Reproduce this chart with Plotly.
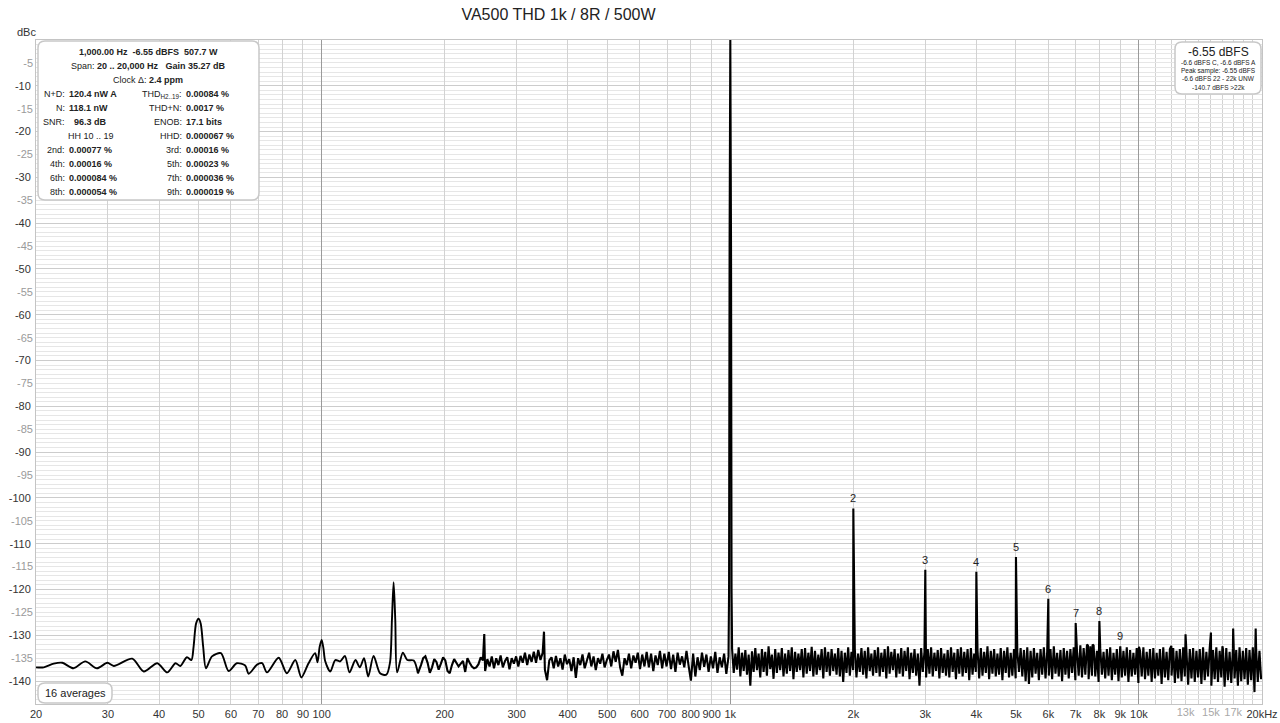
import numpy as np
import plotly.graph_objects as go

# ---------------- data ----------------
# low-frequency part of the spectrum (Hz, dBc)
low_freq = [20.0, 20.9, 22.1, 23.2, 24.7, 26.4, 28.2, 29.9, 31.0, 34.4, 36.7, 39.6,
            41.9, 43.9, 45.1, 46.8, 48.0, 48.6, 49.3, 50.0, 50.6, 51.3, 52.1, 53.9,
            56.7, 59.2, 62.0, 65.0, 66.3, 69.5, 71.5, 73.5, 78.5, 82.2, 86.2, 89.2,
            92.9, 96.4, 97.7, 98.9, 100.0, 101.0, 102.0, 105.0, 108.0, 111.0, 114.0,
            117.0, 121.0, 124.0, 127.0, 130.0, 134.0, 139.0, 144.0, 147.0, 148.6,
            150.0, 151.4, 153.0, 158.0, 162.0, 168.0, 172.0]
low_db = [-137.0, -137.0, -136.2, -136.0, -137.2, -135.7, -137.2, -136.0, -136.7, -135.1,
          -137.9, -136.1, -138.1, -136.1, -136.7, -134.8, -135.4, -132.5, -127.4, -126.4,
          -127.5, -132.5, -137.2, -134.6, -133.9, -137.8, -136.1, -136.6, -138.4, -136.4,
          -136.1, -138.1, -134.9, -138.3, -135.4, -139.2, -136.1, -133.9, -135.9, -132.5,
          -131.0, -132.8, -135.6, -137.9, -135.4, -135.7, -134.5, -138.1, -135.4, -137.0,
          -135.0, -139.0, -134.5, -138.3, -138.6, -135.9, -126.6, -118.4, -126.6, -138.1,
          -133.8, -135.4, -135.5, -138.3]

# mid band noise floor, 175 .. 990 Hz (log-spaced analyser bins)
mid_start_hz, mid_end_hz = 175, 990
mid_db = [-136.5, -135.0, -134.6, -136.0, -138.2, -137.0, -135.2, -135.8, -137.5, -136.2,
          -134.8, -135.5, -137.8, -138.3, -136.5, -135.2, -136.0, -136.8, -136.2, -135.6,
          -138.0, -135.0, -136.0, -136.8, -137.2, -137.0, -136.3, -134.8, -135.5, -137.8,
          -135.2, -136.8, -134.6, -137.2, -135.0, -136.5, -134.4, -137.0, -135.6, -134.8,
          -137.4, -135.0, -136.2, -134.6,
          -136.8, -134.5, -136.0, -133.8, -136.5, -134.2, -135.8, -133.6, -136.0, -133.2,
          -135.4, -133.8,
          -137.5, -139.8, -135.5, -134.8, -137.2,
          -134.5, -136.8, -135.0, -137.5, -134.2, -136.3, -135.2, -137.8, -134.8, -139.3,
          -135.0, -136.5, -134.2, -137.2, -135.5, -133.8, -136.8, -134.6, -137.6, -135.0,
          -136.2, -134.0, -137.0, -135.4,
          -134.2, -136.8, -133.5, -135.8, -133.2, -137.0, -138.8, -135.0, -136.5, -134.0,
          -137.2, -134.4, -136.0, -133.8,
          -137.4, -134.2, -136.8, -133.6, -137.0, -134.0, -137.8, -134.4, -136.5, -133.4,
          -137.2, -134.0, -136.8, -133.6,
          -137.4, -134.2, -138.0, -133.8, -136.4, -134.6, -137.0, -133.4, -136.8, -139.9,
          -134.0, -139.0, -134.8,
          -137.6, -133.8, -136.9, -134.2, -138.0, -134.6, -137.2, -133.6, -138.2, -134.8,
          -137.0, -134.0, -138.4, -134.6]

# high band noise floor, 1.01 .. 19.9 kHz (log-spaced analyser bins)
high_start_hz, high_end_hz = 1010, 19900
high_db = [
    -133.0, -138.2, -134.0, -137.5, -132.6, -139.0, -133.8, -137.8, -133.2, -138.6,
    -134.2, -141.0, -133.5, -138.0, -132.8, -137.6, -134.0, -139.2, -133.0, -138.0,
    -133.6, -138.8, -132.4, -137.4, -134.2, -139.5, -133.0, -138.2, -133.8, -137.6,
    -132.8, -139.0, -134.0, -138.4, -133.2, -137.8, -132.6, -139.6, -133.6, -138.0,
    -134.0, -137.6, -133.0, -139.2, -132.8, -138.4, -133.8, -137.8, -132.5, -139.0,
    -133.4, -138.6, -134.2, -137.6, -133.0, -139.4, -132.6, -138.0, -133.6, -138.8,
    -133.0, -137.8, -134.0, -138.6, -132.8, -139.0, -133.4, -140.2, -133.8, -138.2,
    -132.6, -138.8, -133.6, -137.6, -133.0, -139.2, -134.0, -138.0, -132.8, -138.6,
    -133.4, -139.4, -132.6, -137.8, -134.0, -138.8, -133.2, -138.2, -132.6, -139.0,
    -133.8, -138.0, -133.0, -139.4, -132.4, -138.4, -133.6, -137.6, -133.0, -139.2,
    -134.0, -138.4, -132.8, -139.0, -133.4, -137.8, -132.6, -139.6, -133.8, -138.2,
    -133.0, -138.8, -134.0, -141.0, -132.8, -138.0, -133.6, -139.2, -133.0, -138.4,
    -132.6, -139.0, -133.8, -137.8, -133.2, -139.4, -132.8, -138.2, -134.0, -138.8,
    -133.2, -139.2, -132.6, -138.0, -133.8, -139.6, -133.0, -138.4, -132.6, -139.0,
    -133.6, -138.2, -133.0, -139.8, -132.8, -138.6, -134.0, -138.0, -133.2, -139.4,
    -132.8, -138.8, -133.6, -138.2, -132.4, -139.6, -133.4, -138.4, -133.0, -139.0,
    -134.0, -138.6, -132.8, -139.8, -133.4, -138.2, -132.6, -139.2, -133.8, -138.8,
    -133.0, -139.4, -133.6, -138.0, -132.8, -139.0, -133.2, -140.0, -132.6, -140.6,
    -133.4, -139.2, -132.8, -138.4, -133.8, -139.8, -133.0, -138.6, -132.6, -139.4,
    -133.6, -138.8, -133.0, -139.6, -132.4, -138.4, -133.8, -139.0, -133.2, -140.0,
    -132.8, -138.6, -133.4, -139.4, -133.0, -138.2, -132.6, -139.8, -133.6, -138.8,
    -132.2, -139.2, -132.8, -138.6, -132.0, -139.6, -132.4, -138.8, -132.2, -139.0,
    -133.4, -140.2, -132.8, -138.6, -133.6, -139.4, -133.0, -138.8, -132.6, -139.8,
    -133.8, -138.6, -133.0, -140.0, -132.8, -139.2, -133.4, -138.8, -132.6, -140.2,
    -133.2, -139.0, -133.8, -138.6, -132.8, -140.4, -133.4, -139.0, -132.6, -139.6,
    -133.6, -138.8, -133.0, -140.2, -132.8, -139.4, -133.8, -138.8, -133.0, -140.6,
    -132.6, -139.2, -133.6, -139.8, -133.0, -138.8, -132.8, -140.4, -133.4, -139.4,
    -133.0, -140.0, -132.6, -139.0, -133.6, -140.8, -133.0, -139.4, -132.8, -140.2,
    -133.4, -139.2, -133.0, -140.6, -132.6, -139.8, -133.6, -139.0, -132.8, -141.0,
    -133.2, -139.6, -132.6, -140.2, -133.4, -139.2, -133.0, -141.2, -132.8, -139.8,
    -133.6, -140.4, -132.8, -139.4, -133.2, -141.0, -132.6, -140.0, -133.4, -139.6,
    -132.8, -140.8, -133.2, -139.8, -132.6, -142.4, -133.0, -140.2, -133.4, -139.6]

# fundamental
fund_freq = [993, 996, 1000, 1004, 1007]
fund_db = [-120.0, -45.0, 0.0, -45.0, -120.0]

# harmonics (labelled 2..9)
harm_freq = [2000, 3000, 4000, 5000, 6000, 7000, 8000, 9000]
harm_db = [-102.3, -115.7, -116.1, -112.9, -122.0, -127.3, -126.9, -132.4]
harm_labels = ["2", "3", "4", "5", "6", "7", "8", "9"]

# other spurious lines
spur_freq = [250, 350, 7500, 7700, 10000, 12000, 13000, 15000, 16000, 17000, 19300]
spur_db = [-129.7, -129.2, -132.2, -132.0, -132.5, -132.3, -129.8, -129.4, -132.4, -128.5, -128.5]

# axis ticks
x_tick_vals = [20, 30, 40, 50, 60, 70, 80, 90, 100, 200, 300, 400, 500, 600, 700, 800, 900,
               1000, 2000, 3000, 4000, 5000, 6000, 7000, 8000, 9000, 10000, 20000]
x_tick_text = ["20", "30", "40", "50", "60", "70", "80", "90", "100", "200", "300", "400",
               "500", "600", "700", "800", "900", "1k", "2k", "3k", "4k", "5k", "6k", "7k",
               "8k", "9k", "10k", "20kHz"]
x_unlabelled_grid = [11000, 12000, 13000, 14000, 15000, 16000, 17000, 18000, 19000]
x_grey_vals = [13000, 15000, 17000]
x_grey_text = ["13k", "15k", "17k"]
x_decade_vals = [100, 1000, 10000]
y_major_vals = [-10, -20, -30, -40, -50, -60, -70, -80, -90, -100, -110, -120, -130, -140]
y_major_text = ["-10", "-20", "-30", "-40", "-50", "-60", "-70", "-80", "-90", "-100",
                "-110", "-120", "-130", "-140"]
y_half_vals = [-5, -15, -25, -35, -45, -55, -65, -75, -85, -95, -105, -115, -125, -135]
y_half_text = ["-5", "-15", "-25", "-35", "-45", "-55", "-65", "-75", "-85", "-95",
               "-105", "-115", "-125", "-135"]

# ---------------- build figure ----------------
mid_freq = np.geomspace(mid_start_hz, mid_end_hz, len(mid_db))
high_freq = np.geomspace(high_start_hz, high_end_hz, len(high_db))
freq = np.concatenate([[low_freq[-1]], mid_freq, fund_freq, high_freq, harm_freq, spur_freq])
level = np.concatenate([[low_db[-1]], mid_db, fund_db, high_db, harm_db, spur_db])
order = np.argsort(freq, kind="stable")

W, H = 1280, 723
L, R, T, B = 36, 18, 40, 19
PW, PH = W - L - R, H - T - B
FONT = "Liberation Sans, Arial, sans-serif"
DARK = "#222222"


def px(x):
    return (x - L) / PW


def py(y):
    return (H - B - y) / PH


def rrect(x0, y0, x1, y1, r):
    rx, ry = r / PW, r / PH
    a, b, c, d = px(x0), py(y0), px(x1), py(y1)
    return (f"M {a+rx},{b} L {c-rx},{b} Q {c},{b} {c},{b-ry} L {c},{d+ry} "
            f"Q {c},{d} {c-rx},{d} L {a+rx},{d} Q {a},{d} {a},{d+ry} "
            f"L {a},{b-ry} Q {a},{b} {a+rx},{b} Z")


fig = go.Figure()
# smooth low-frequency part
fig.add_trace(go.Scatter(x=low_freq, y=low_db, mode="lines",
                         line=dict(color="black", width=1.9, shape="spline", smoothing=0.8),
                         showlegend=False, hoverinfo="skip"))
# noisy part with spectral lines
fig.add_trace(go.Scatter(x=freq[order], y=level[order], mode="lines",
                         line=dict(color="black", width=2.1, simplify=False),
                         showlegend=False, hoverinfo="skip"))
# empty helper traces so the overlay axes are created
for xa, ya in (("x2", "y"), ("x3", "y"), ("x", "y2")):
    fig.add_trace(go.Scatter(x=[None], y=[None], xaxis=xa, yaxis=ya, showlegend=False,
                             hoverinfo="skip"))

xr = [np.log10(20), np.log10(20000)]
yr = [-145, 0]
fig.update_layout(
    width=W, height=H, margin=dict(l=L, r=R, t=T, b=B, autoexpand=False),
    paper_bgcolor="white", plot_bgcolor="white",
    font=dict(family=FONT, color=DARK, size=11),
    title=dict(text="VA500 THD 1k / 8R / 500W", x=558.5 / W, xanchor="center",
               xref="container", y=1 - 14 / H, yanchor="middle", yref="container",
               font=dict(size=16, color=DARK, family=FONT)),
    xaxis=dict(type="log", range=xr, tickmode="array", tickvals=x_tick_vals,
               ticktext=x_tick_text, tickangle=0, ticks="", showgrid=True,
               gridcolor="#d2d2d2", gridwidth=1, zeroline=False, showline=True,
               linecolor="#c4c4c4", mirror=True, tickfont=dict(size=11, color="#333333"),
               minor=dict(tickmode="array", tickvals=x_unlabelled_grid, showgrid=True,
                          gridcolor="#d2d2d2", gridwidth=1, ticks="")),
    xaxis2=dict(type="log", range=xr, overlaying="x", anchor="y", side="bottom",
                tickmode="array", tickvals=x_grey_vals, ticktext=x_grey_text, tickangle=0,
                ticks="", showgrid=False, zeroline=False, showline=False,
                tickfont=dict(size=11, color="#a8a8a8")),
    xaxis3=dict(type="log", range=xr, overlaying="x", anchor="y", side="bottom",
                tickmode="array", tickvals=x_decade_vals, showticklabels=False,
                ticks="", showgrid=True, gridcolor="#9a9a9a", gridwidth=1,
                zeroline=False, showline=False),
    yaxis=dict(range=yr, tickmode="array", tickvals=y_major_vals, ticktext=y_major_text,
               ticks="", showgrid=True, gridcolor="#cccccc", gridwidth=1, zeroline=False,
               showline=True, linecolor="#c4c4c4", mirror=True,
               tickfont=dict(size=11, color="#333333"), ticklabelstandoff=2,
               minor=dict(tickmode="linear", tick0=0, dtick=1, showgrid=True,
                          gridcolor="#e6e6e6", gridwidth=1, ticks="")),
    yaxis2=dict(range=yr, overlaying="y", anchor="x", side="left", tickmode="array",
                tickvals=y_half_vals, ticktext=y_half_text, ticks="", showgrid=False,
                zeroline=False, showline=False, ticklabelstandoff=2,
                tickfont=dict(size=11, color="#9a9a9a")),
)

shapes = []
for (x0, y0, x1, y1) in ((38, 41, 259, 200), (1175, 42, 1261, 94), (38, 683, 112, 703)):
    shapes.append(dict(type="path", path=rrect(x0, y0, x1, y1, 7), xref="paper",
                       yref="paper", fillcolor="white", line=dict(color="#c8c8c8", width=1.5),
                       layer="above"))
fig.update_layout(shapes=shapes)

ann = []


def text(x, y, s, size=9, anchor="center", color=DARK):
    ann.append(dict(x=px(x), y=py(y), xref="paper", yref="paper", text=s, showarrow=False,
                    xanchor=anchor, yanchor="middle", borderpad=0,
                    font=dict(size=size, color=color, family=FONT)))


nb = "\u00a0"
text(26, 32, "dBc", size=11, color="#333333")
text(148, 52, f"<b>1,000.00 Hz{nb}{nb}-6.55 dBFS{nb}{nb}507.7 W</b>")
text(148, 66, f"Span: <b>20 .. 20,000 Hz{nb}{nb}{nb}Gain 35.27 dB</b>")
text(148, 80, "Clock Δ: <b>2.4 ppm</b>")

rows_y = [94, 108, 122, 136, 150, 164, 178, 192]
left_labels = ["N+D:", "N:", "SNR:", "", "2nd:", "4th:", "6th:", "8th:"]
left_values = ["120.4 nW A", "118.1 nW", f"{nb}{nb}96.3 dB", "", "0.00077 %", "0.00016 %",
               "0.000084 %", "0.000054 %"]
right_labels = ["THD<sub>H2..19</sub>:", "THD+N:", "ENOB:", "HHD:", "3rd:", "5th:", "7th:",
                "9th:"]
right_values = ["0.00084 %", "0.0017 %", "17.1 bits", "0.000067 %", "0.00016 %",
                "0.00023 %", "0.000036 %", "0.000019 %"]
for y, ll, lv, rl, rv in zip(rows_y, left_labels, left_values, right_labels, right_values):
    if ll:
        text(66, y, ll, anchor="right")
        text(68, y, f"<b>{lv}</b>", anchor="left")
    text(183, y, rl, anchor="right")
    text(185, y, f"<b>{rv}</b>", anchor="left")
text(67, 136, "HH 10 .. 19", anchor="left")

text(1218, 52, "-6.55 dBFS", size=12)
for y, s in zip([63, 71, 79, 87], ["-6.6 dBFS C, -6.6 dBFS A", "Peak sample: -6.55 dBFS",
                                   "-6.6 dBFS 22 - 22k UNW", "-140.7 dBFS >22k"]):
    text(1218, y, s, size=6.5)

text(75, 693, "16 averages", size=11)

for f, d, lab in zip(harm_freq, harm_db, harm_labels):
    ann.append(dict(x=np.log10(f), y=d, xref="x", yref="y", text=lab, showarrow=False,
                    xanchor="center", yanchor="middle", yshift=10,
                    font=dict(size=11, color=DARK, family=FONT)))

fig.update_layout(annotations=ann)
fig.write_html("out.html", config={"displayModeBar": False},
               post_script="document.body.style.margin='0';")
